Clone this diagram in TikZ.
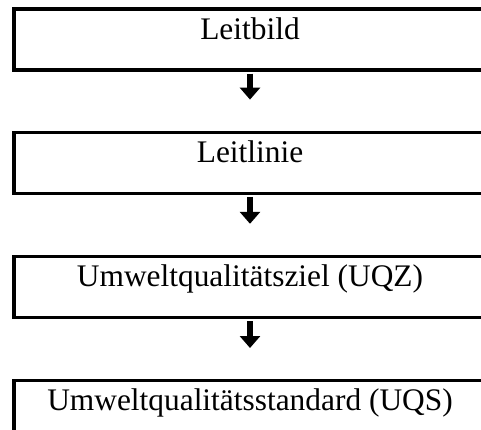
\documentclass[tikz,border=0pt]{standalone}
\usepackage{fontspec}
\setmainfont{Liberation Serif}
\usetikzlibrary{positioning,arrows.meta}
\begin{document}
\begin{tikzpicture}[x=0.5pt,y=-0.5pt,
  stufe/.style={draw,line width=1.6pt,minimum width=236pt,inner sep=0pt,
    text height=15pt,text depth=15.5pt,font=\fontsize{15.7}{18}\selectfont},
  pfeil/.style={line width=3pt,-{Triangle[width=10pt,length=6pt]},
    shorten <=1pt,shorten >=15.5pt}]
\useasboundingbox (0,0) rectangle (481,429);
\clip (0,0) rectangle (481,429);

% Die vier Ebenen untereinander
\node[stufe] (bild) at (250,39.5) {Leitbild};
\node[stufe,below=29.5pt of bild] (linie) {Leitlinie};
\node[stufe,below=30pt of linie] (uqz) {Umweltqualitätsziel (UQZ)};
\node[stufe,below=30pt of uqz] (uqs) {Umweltqualitätsstandard (UQS)};

% Pfeile zwischen den Ebenen
\draw[pfeil] (bild) -- (linie);
\draw[pfeil] (linie) -- (uqz);
\draw[pfeil] (uqz) -- (uqs);
\end{tikzpicture}
\end{document}
